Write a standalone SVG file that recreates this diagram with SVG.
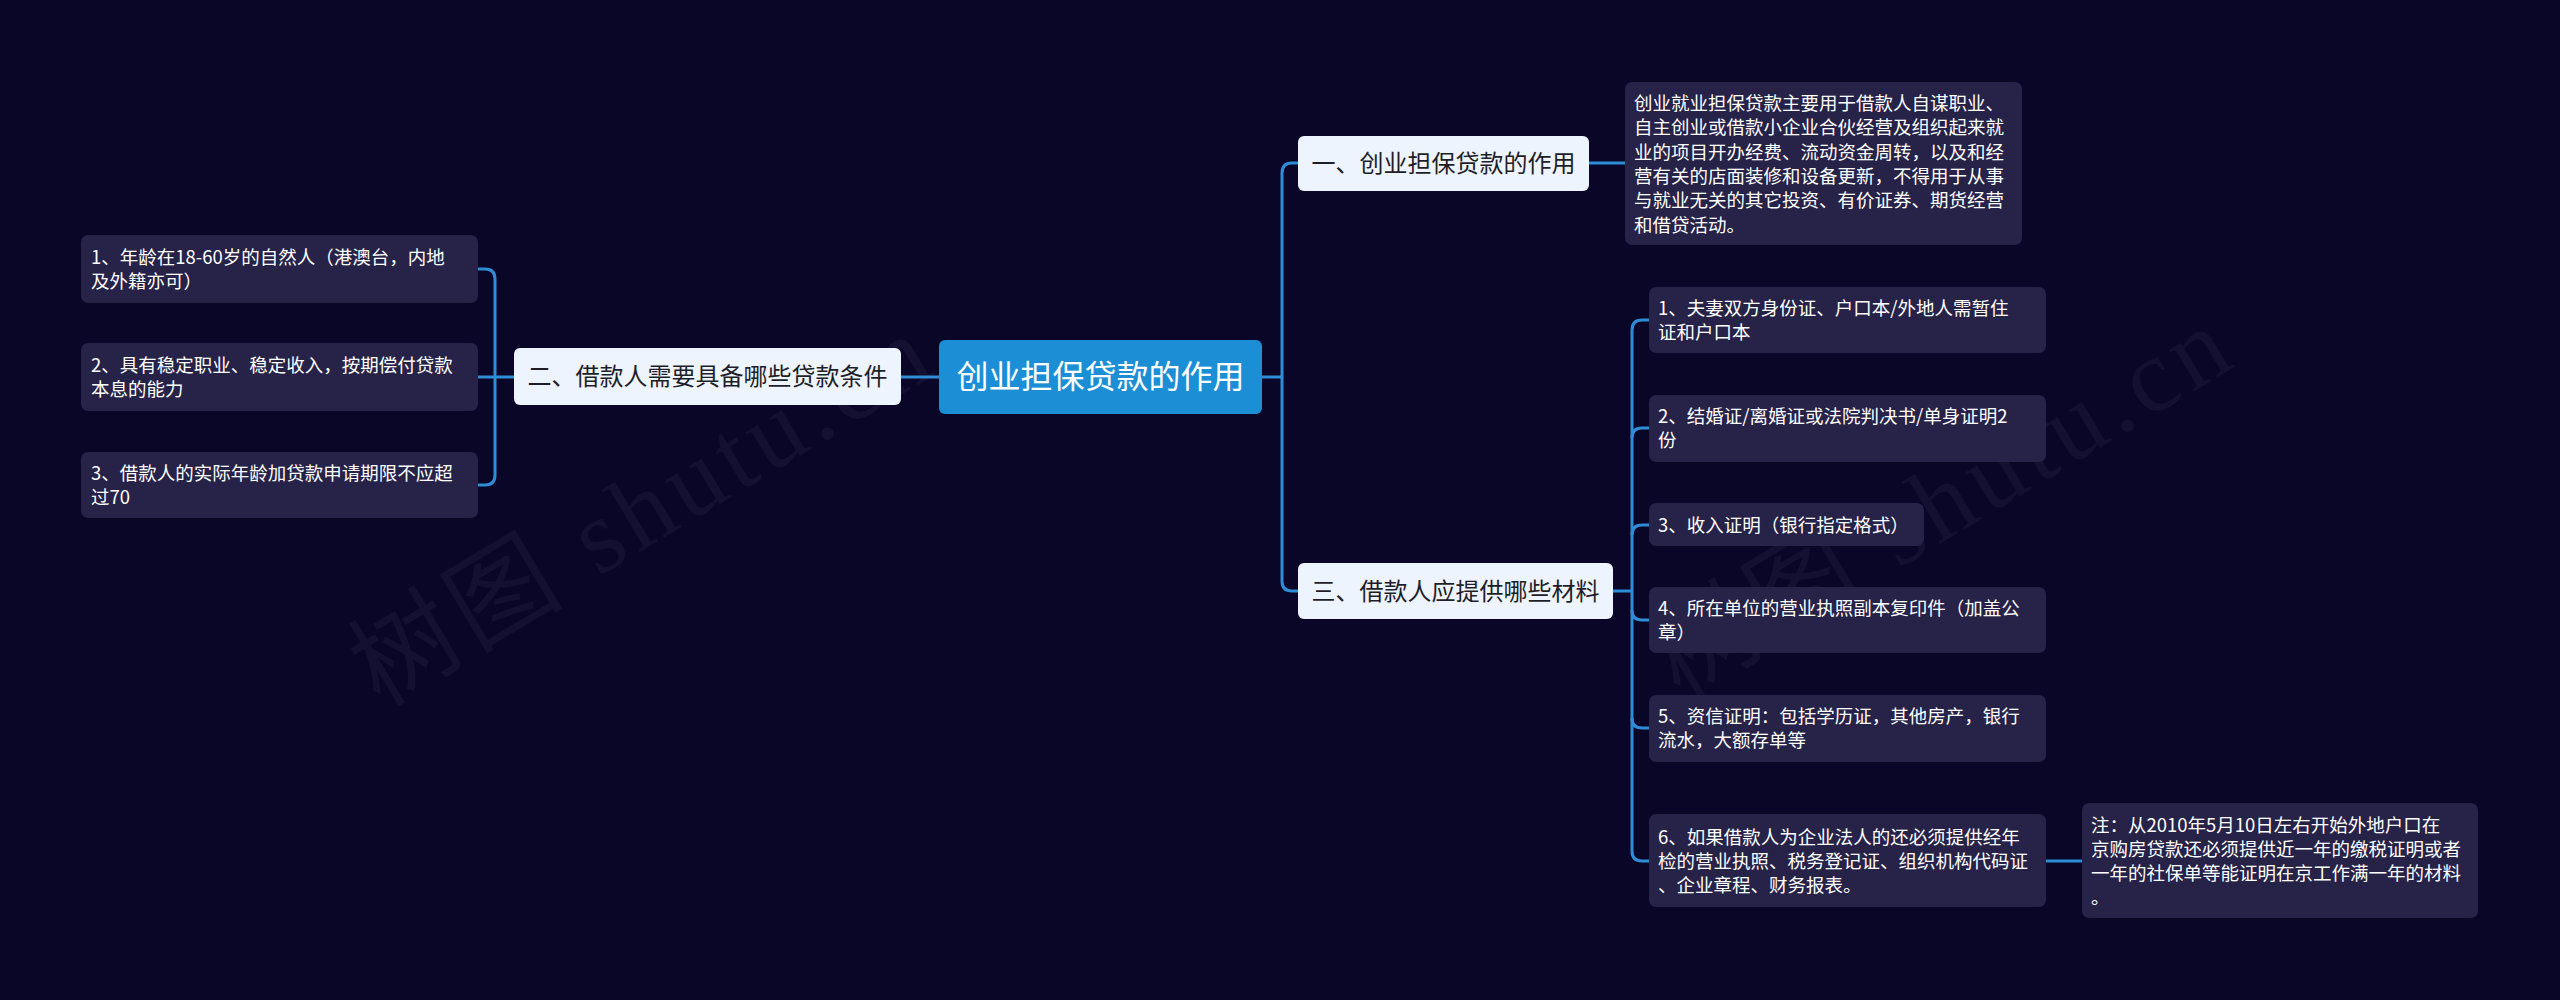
<svg xmlns="http://www.w3.org/2000/svg" width="2560" height="1000" viewBox="0 0 2560 1000">
<style>
.bg{fill:#0a0628}
.wm{font-family:"Liberation Serif","Noto Sans CJK SC",serif;font-size:105px;fill:#ffffff;fill-opacity:0.045;letter-spacing:6px}
.ln{fill:none;stroke:#2e8dd6;stroke-width:3}
.main rect{fill:#1b8ed6}
.main text{fill:#ffffff;font-size:32px}
.sub rect{fill:#eef4fd}
.sub text{fill:#1e1e28;font-size:24px}
.leaf rect{fill:#262248}
.leaf text{fill:#ffffff;font-size:18.5px}
text{font-family:"Noto Sans CJK SC","Microsoft YaHei",sans-serif}
</style>
<rect class="bg" x="0" y="0" width="2560" height="1000"/>
<text class="wm" transform="translate(380,708) rotate(-31)">树图 shutu.cn</text>
<text class="wm" transform="translate(1680,700) rotate(-31)">树图 shutu.cn</text>
<g id="connectors">
<path class="ln" d="M939,377 H901"/>
<path class="ln" d="M1262,377 H1282"/>
<path class="ln" d="M1298,163 H1292 Q1282,163 1282,173 V581 Q1282,591 1292,591 H1298"/>
<path class="ln" d="M1589,163 H1625"/>
<path class="ln" d="M478,269 H485 Q495,269 495,279 V475 Q495,485 485,485 H478"/>
<path class="ln" d="M478,377 H514"/>
<path class="ln" d="M1613,591 H1632"/>
<path class="ln" d="M1649,320 H1642 Q1632,320 1632,330 V851 Q1632,861 1642,861 H1649"/>
<path class="ln" d="M1649,428 H1642 Q1632,428 1632,438"/>
<path class="ln" d="M1649,525 H1642 Q1632,525 1632,535"/>
<path class="ln" d="M1632,610 Q1632,620 1642,620 H1649"/>
<path class="ln" d="M1632,718 Q1632,728 1642,728 H1649"/>
<path class="ln" d="M2046,861 H2082"/>
</g>
<g id="root" class="main">
<rect x="939" y="340" width="323" height="74" rx="6"/>
<text x="1100.5" y="388" text-anchor="middle">创业担保贷款的作用</text>
</g>
<g id="n1" class="sub">
<rect x="1298" y="136" width="291" height="55" rx="6"/>
<text x="1443.5" y="171.5" text-anchor="middle">一、创业担保贷款的作用</text>
</g>
<g id="n2" class="sub">
<rect x="514" y="348" width="387" height="57" rx="6"/>
<text x="707.5" y="385" text-anchor="middle">二、借款人需要具备哪些贷款条件</text>
</g>
<g id="n3" class="sub">
<rect x="1298" y="563" width="315" height="56" rx="6"/>
<text x="1455.5" y="599.5" text-anchor="middle">三、借款人应提供哪些材料</text>
</g>
<g id="n1a" class="leaf">
<rect x="1625" y="82" width="397" height="163" rx="7"/>
<text x="1634" y="110">创业就业担保贷款主要用于借款人自谋职业、</text>
<text x="1634" y="134.3">自主创业或借款小企业合伙经营及组织起来就</text>
<text x="1634" y="158.6">业的项目开办经费、流动资金周转，以及和经</text>
<text x="1634" y="182.9">营有关的店面装修和设备更新，不得用于从事</text>
<text x="1634" y="207.2">与就业无关的其它投资、有价证券、期货经营</text>
<text x="1634" y="231.5">和借贷活动。</text>
</g>
<g id="n2a" class="leaf">
<rect x="81" y="235" width="397" height="68" rx="7"/>
<text x="91" y="263.5">1、年龄在18-60岁的自然人（港澳台，内地</text>
<text x="91" y="287.5">及外籍亦可）</text>
</g>
<g id="n2b" class="leaf">
<rect x="81" y="343" width="397" height="68" rx="7"/>
<text x="91" y="371.5">2、具有稳定职业、稳定收入，按期偿付贷款</text>
<text x="91" y="395.5">本息的能力</text>
</g>
<g id="n2c" class="leaf">
<rect x="81" y="452" width="397" height="66" rx="7"/>
<text x="91" y="479.5">3、借款人的实际年龄加贷款申请期限不应超</text>
<text x="91" y="503.5">过70</text>
</g>
<g id="n3a" class="leaf">
<rect x="1649" y="287" width="397" height="66" rx="7"/>
<text x="1658" y="314.5">1、夫妻双方身份证、户口本/外地人需暂住</text>
<text x="1658" y="338.5">证和户口本</text>
</g>
<g id="n3b" class="leaf">
<rect x="1649" y="395" width="397" height="67" rx="7"/>
<text x="1658" y="422.5">2、结婚证/离婚证或法院判决书/单身证明2</text>
<text x="1658" y="446.5">份</text>
</g>
<g id="n3c" class="leaf">
<rect x="1649" y="503" width="275" height="43" rx="7"/>
<text x="1658" y="531.5">3、收入证明（银行指定格式）</text>
</g>
<g id="n3d" class="leaf">
<rect x="1649" y="587" width="397" height="66" rx="7"/>
<text x="1658" y="614.5">4、所在单位的营业执照副本复印件（加盖公</text>
<text x="1658" y="638.5">章）</text>
</g>
<g id="n3e" class="leaf">
<rect x="1649" y="695" width="397" height="67" rx="7"/>
<text x="1658" y="722.5">5、资信证明：包括学历证，其他房产，银行</text>
<text x="1658" y="746.5">流水，大额存单等</text>
</g>
<g id="n3f" class="leaf">
<rect x="1649" y="814" width="397" height="93" rx="7"/>
<text x="1658" y="843.5">6、如果借款人为企业法人的还必须提供经年</text>
<text x="1658" y="867.5">检的营业执照、税务登记证、组织机构代码证</text>
<text x="1658" y="891.5">、企业章程、财务报表。</text>
</g>
<g id="n3f1" class="leaf">
<rect x="2082" y="803" width="396" height="115" rx="7"/>
<text x="2091" y="831.5">注：从2010年5月10日左右开始外地户口在</text>
<text x="2091" y="855.5">京购房贷款还必须提供近一年的缴税证明或者</text>
<text x="2091" y="879.5">一年的社保单等能证明在京工作满一年的材料</text>
<text x="2091" y="903.5">。</text>
</g>
</svg>
